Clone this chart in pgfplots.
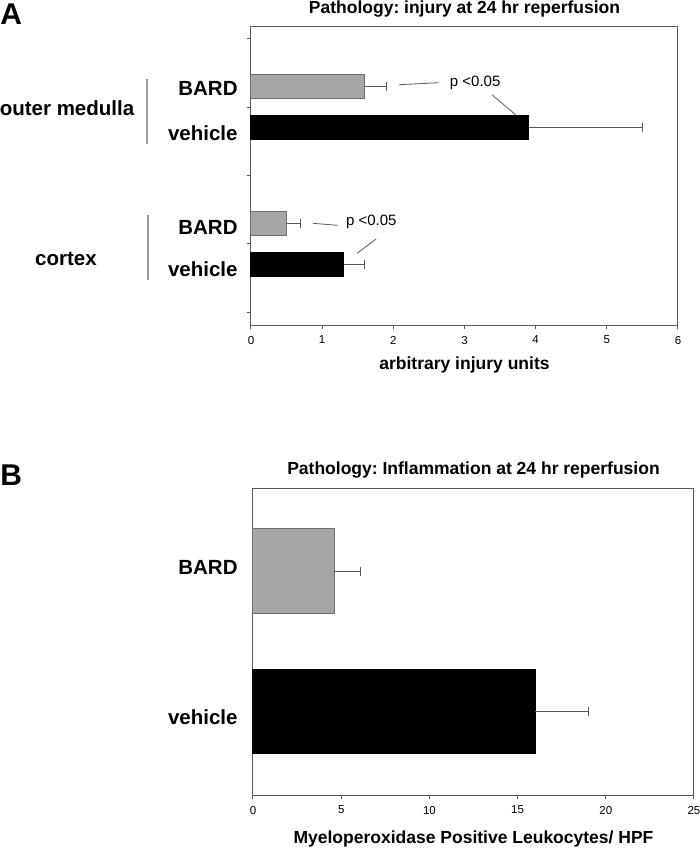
\documentclass[border=0pt]{standalone}
\usepackage{pgfplots}
\pgfplotsset{compat=1.18}
\usepackage{fontspec}
\setmainfont{Liberation Sans}
\frenchspacing

\definecolor{bargray}{HTML}{A6A6A6}
\definecolor{edgegray}{HTML}{6E6E6E}
\definecolor{axgray}{HTML}{5A5A5A}
\definecolor{brgray}{HTML}{9A9A9A}

\newcommand{\catfont}{\fontsize{10.25}{12}\selectfont\bfseries}
\newcommand{\labfont}{\fontsize{8.75}{10}\selectfont\bfseries}
\newcommand{\pfont}{\fontsize{7.5}{9}\selectfont}

\pgfplotsset{
  panel/.style={
    scale only axis,
    clip=false,
    axis line style={axgray, line width=0.5pt},
    tick style={axgray, line width=0.5pt},
    tick align=outside,
    major tick length=2pt,
    xtick pos=bottom,
    ytick pos=left,
    /pgf/number format/assume math mode=true,
    xticklabel style={font=\fontsize{5.75}{6}\selectfont},
  },
  bars/.style={
    xbar, bar shift=0pt, line width=0.5pt,
    error bars/x dir=plus,
    error bars/x explicit,
    error bars/error mark=|,
    error bars/error bar style={axgray, line width=0.5pt},
    error bars/error mark options={axgray, line width=0.5pt, mark size=2.25pt},
  },
}

\begin{document}
\begin{tikzpicture}
\useasboundingbox (0,0) rectangle (350pt,-426.5pt);

% panel letters
\node[anchor=base west, inner sep=0pt, font=\fontsize{15}{15}\selectfont\bfseries] at (0pt,-12pt) {A};
\node[anchor=base west, inner sep=0pt, font=\fontsize{15}{15}\selectfont\bfseries] at (0pt,-242.5pt) {B};

% panel A
\begin{axis}[panel,
  at={(125.5pt,-162.5pt)}, anchor=south west,
  width=213.5pt, height=149.5pt,
  xmin=0, xmax=6, xtick={0,1,2,3,4,5,6},
  ymin=-0.19, ymax=4.19, ytick={0,1,2,3,4}, yticklabels={},
  bar width=0.35,
]
\addplot[bars, fill=bargray, draw=edgegray] coordinates {
  (1.6,3.30) +- (0.3,0)
  (0.5,1.30) +- (0.2,0)
};
\addplot[bars, fill=black, draw=black] coordinates {
  (3.9,2.70) +- (1.6,0)
  (1.3,0.70) +- (0.3,0)
};

\node[anchor=base, inner sep=0pt, font=\labfont] at (rel axis cs:0.5,1) [yshift=6.35pt] {Pathology: injury at 24 hr reperfusion};
\node[anchor=base, inner sep=0pt, font=\labfont] at (rel axis cs:0.5,0) [yshift=-22pt] {arbitrary injury units};

\node[anchor=east, inner sep=0pt, font=\catfont] at (axis cs:0,3.27) [xshift=-6.5pt] {BARD};
\node[anchor=east, inner sep=0pt, font=\catfont] at (axis cs:0,2.62) [xshift=-6.5pt] {vehicle};
\node[anchor=east, inner sep=0pt, font=\catfont] at (axis cs:0,1.245) [xshift=-6.5pt] {BARD};
\node[anchor=east, inner sep=0pt, font=\catfont] at (axis cs:0,0.63) [xshift=-6.5pt] {vehicle};
\node[inner sep=0pt, font=\catfont] at (axis cs:-2.585,2.99) {outer medulla};
\node[inner sep=0pt, font=\catfont] at (axis cs:-2.6,0.777) {cortex};
\draw[brgray, line width=0.6pt] (axis cs:-1.461,3.41) -- (axis cs:-1.461,2.46);
\draw[brgray, line width=0.6pt] (axis cs:-1.447,1.42) -- (axis cs:-1.447,0.47);

\node[inner sep=0pt, font=\pfont] at (axis cs:3.15,3.36) {p <0.05};
\draw[axgray, line width=0.4pt] (axis cs:2.08,3.33) -- (axis cs:2.64,3.36);
\draw[axgray, line width=0.4pt] (axis cs:3.39,3.18) -- (axis cs:3.72,2.89);
\node[inner sep=0pt, font=\pfont] at (axis cs:1.69,1.32) {p <0.05};
\draw[axgray, line width=0.4pt] (axis cs:0.87,1.30) -- (axis cs:1.22,1.27);
\draw[axgray, line width=0.4pt] (axis cs:1.76,1.07) -- (axis cs:1.49,0.86);
\end{axis}

% panel B
\begin{axis}[panel,
  at={(126.5pt,-397.5pt)}, anchor=south west,
  width=220.5pt, height=153.5pt,
  xmin=0, xmax=25, xtick={0,5,10,15,20,25},
  ymin=-0.594, ymax=1.591, ytick=\empty,
  bar width=0.6,
]
\addplot[bars, fill=bargray, draw=edgegray] coordinates {
  (4.6,1) +- (1.5,0)
};
\addplot[bars, fill=black, draw=black] coordinates {
  (16.0,0) +- (3.0,0)
};

\node[anchor=base, inner sep=0pt, font=\labfont] at (rel axis cs:0.5,1) [yshift=7pt] {Pathology: Inflammation at 24 hr reperfusion};
\node[anchor=base, inner sep=0pt, font=\labfont] at (rel axis cs:0.5,0) [yshift=-24pt] {Myeloperoxidase Positive Leukocytes/ HPF};

\node[anchor=east, inner sep=0pt, font=\catfont] at (axis cs:0,1.028) [xshift=-7.5pt] {BARD};
\node[anchor=east, inner sep=0pt, font=\catfont] at (axis cs:0,-0.039) [xshift=-7.5pt] {vehicle};
\end{axis}
\end{tikzpicture}
\end{document}
